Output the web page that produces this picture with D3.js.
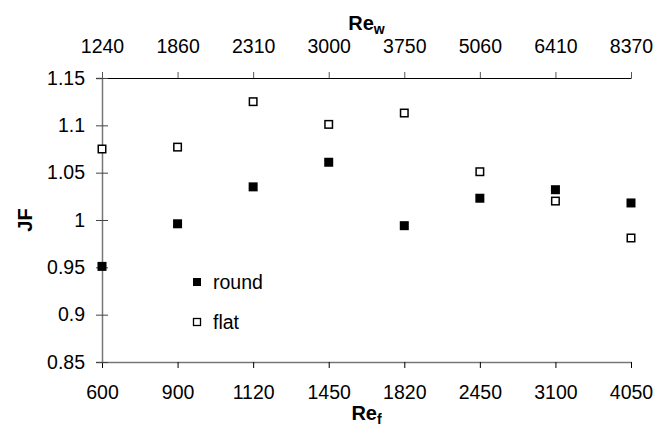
<!DOCTYPE html>
<html>
<head>
<meta charset="utf-8">
<script src="https://cdnjs.cloudflare.com/ajax/libs/d3/7.8.5/d3.min.js"></script>
<style>
  body { margin: 0; background: #fff; }
  text { font-family: "Liberation Sans", Arial, sans-serif; fill: #000; }
</style>
</head>
<body>
<div id="chart"></div>
<script>
var svgWidth = 654;
var svgHeight = 428;

var margin = { top: 78, right: 23, bottom: 66, left: 102 };
var width = svgWidth - margin.left - margin.right;
var height = svgHeight - margin.top - margin.bottom;

// data
var reF = ["600", "900", "1120", "1450", "1820", "2450", "3100", "4050"];
var reW = ["1240", "1860", "2310", "3000", "3750", "5060", "6410", "8370"];
var roundJF = [0.951, 0.996, 1.035, 1.061, 0.994, 1.023, 1.032, 1.018];
var flatJF = [1.075, 1.077, 1.125, 1.101, 1.113, 1.051, 1.020, 0.981];
var yTicks = [0.85, 0.9, 0.95, 1, 1.05, 1.1, 1.15];

var svg = d3.select("#chart")
  .append("svg")
  .attr("width", svgWidth)
  .attr("height", svgHeight);

var chartGroup = svg.append("g")
  .attr("transform", `translate(${margin.left}, ${margin.top})`);

var xScale = d3.scalePoint().domain(reF).range([0, width]);
var xTopScale = d3.scalePoint().domain(reW).range([0, width]);
var yScale = d3.scaleLinear().domain([0.85, 1.15]).range([height, 0]);

// bottom axis
var bottomAxis = d3.axisBottom(xScale).tickSizeInner(6).tickSizeOuter(0);
var gb = chartGroup.append("g")
  .attr("transform", `translate(0, ${height})`)
  .call(bottomAxis);
gb.select(".domain").attr("stroke", "#777").attr("stroke-width", 1.5);
gb.selectAll("text").attr("font-size", "19.5px").attr("y", 37).attr("dy", 0);

// top axis
var topAxis = d3.axisTop(xTopScale).tickSizeInner(6).tickSizeOuter(0);
var gt = chartGroup.append("g").call(topAxis);
gt.select(".domain").attr("stroke", "#000").attr("stroke-width", 1.2);
gt.selectAll(".tick line").attr("stroke", "#555");
gt.selectAll("text").attr("font-size", "19.5px").attr("y", -25).attr("dy", 0);

// left axis with crossing ticks
var leftAxis = d3.axisLeft(yScale).tickValues(yTicks).tickSizeOuter(0).tickSize(6)
  .tickPadding(11).tickFormat(d3.format("~g"));
var gl = chartGroup.append("g").call(leftAxis);
gl.select(".domain").attr("stroke", "#777").attr("stroke-width", 1.5);
gl.selectAll(".tick line").attr("x1", 6).attr("x2", -6).attr("stroke", "#444");
gl.selectAll("text").attr("font-size", "19.5px");

// markers
var sz = 9;
chartGroup.selectAll("rect.round")
  .data(roundJF)
  .enter()
  .append("rect")
  .attr("class", "round")
  .attr("x", (d, i) => xScale(reF[i]) - sz / 2)
  .attr("y", d => yScale(d) - sz / 2)
  .attr("width", sz)
  .attr("height", sz)
  .attr("fill", "#000");

chartGroup.selectAll("rect.flat")
  .data(flatJF)
  .enter()
  .append("rect")
  .attr("class", "flat")
  .attr("x", (d, i) => xScale(reF[i]) - (sz - 1.5) / 2)
  .attr("y", d => yScale(d) - (sz - 1.5) / 2)
  .attr("width", sz - 1.5)
  .attr("height", sz - 1.5)
  .attr("fill", "#fff")
  .attr("stroke", "#000")
  .attr("stroke-width", 1.5);

// legend
var legend = svg.append("g").attr("transform", "translate(197, 282)");
legend.append("rect").attr("x", -4).attr("y", -4).attr("width", 8).attr("height", 8).attr("fill", "#000");
legend.append("text").attr("x", 16).attr("y", 7).attr("font-size", "19.5px").text("round");
legend.append("rect").attr("x", -3.5).attr("y", 36.5).attr("width", 7).attr("height", 7)
  .attr("fill", "#fff").attr("stroke", "#000").attr("stroke-width", 1.3);
legend.append("text").attr("x", 16).attr("y", 47).attr("font-size", "19.5px").text("flat");

// axis titles
var topTitle = svg.append("text")
  .attr("x", margin.left + width / 2)
  .attr("y", 30)
  .attr("text-anchor", "middle")
  .attr("font-size", "20px")
  .attr("font-weight", "bold");
topTitle.append("tspan").text("Re");
topTitle.append("tspan").attr("font-size", "14px").attr("dy", 4).text("w");

var bottomTitle = svg.append("text")
  .attr("x", margin.left + width / 2)
  .attr("y", 420)
  .attr("text-anchor", "middle")
  .attr("font-size", "20px")
  .attr("font-weight", "bold");
bottomTitle.append("tspan").text("Re");
bottomTitle.append("tspan").attr("font-size", "14px").attr("dy", 4).text("f");

svg.append("text")
  .attr("transform", `translate(32, ${margin.top + height / 2}) rotate(-90)`)
  .attr("text-anchor", "middle")
  .attr("font-size", "20px")
  .attr("font-weight", "bold")
  .text("JF");
</script>
</body>
</html>
